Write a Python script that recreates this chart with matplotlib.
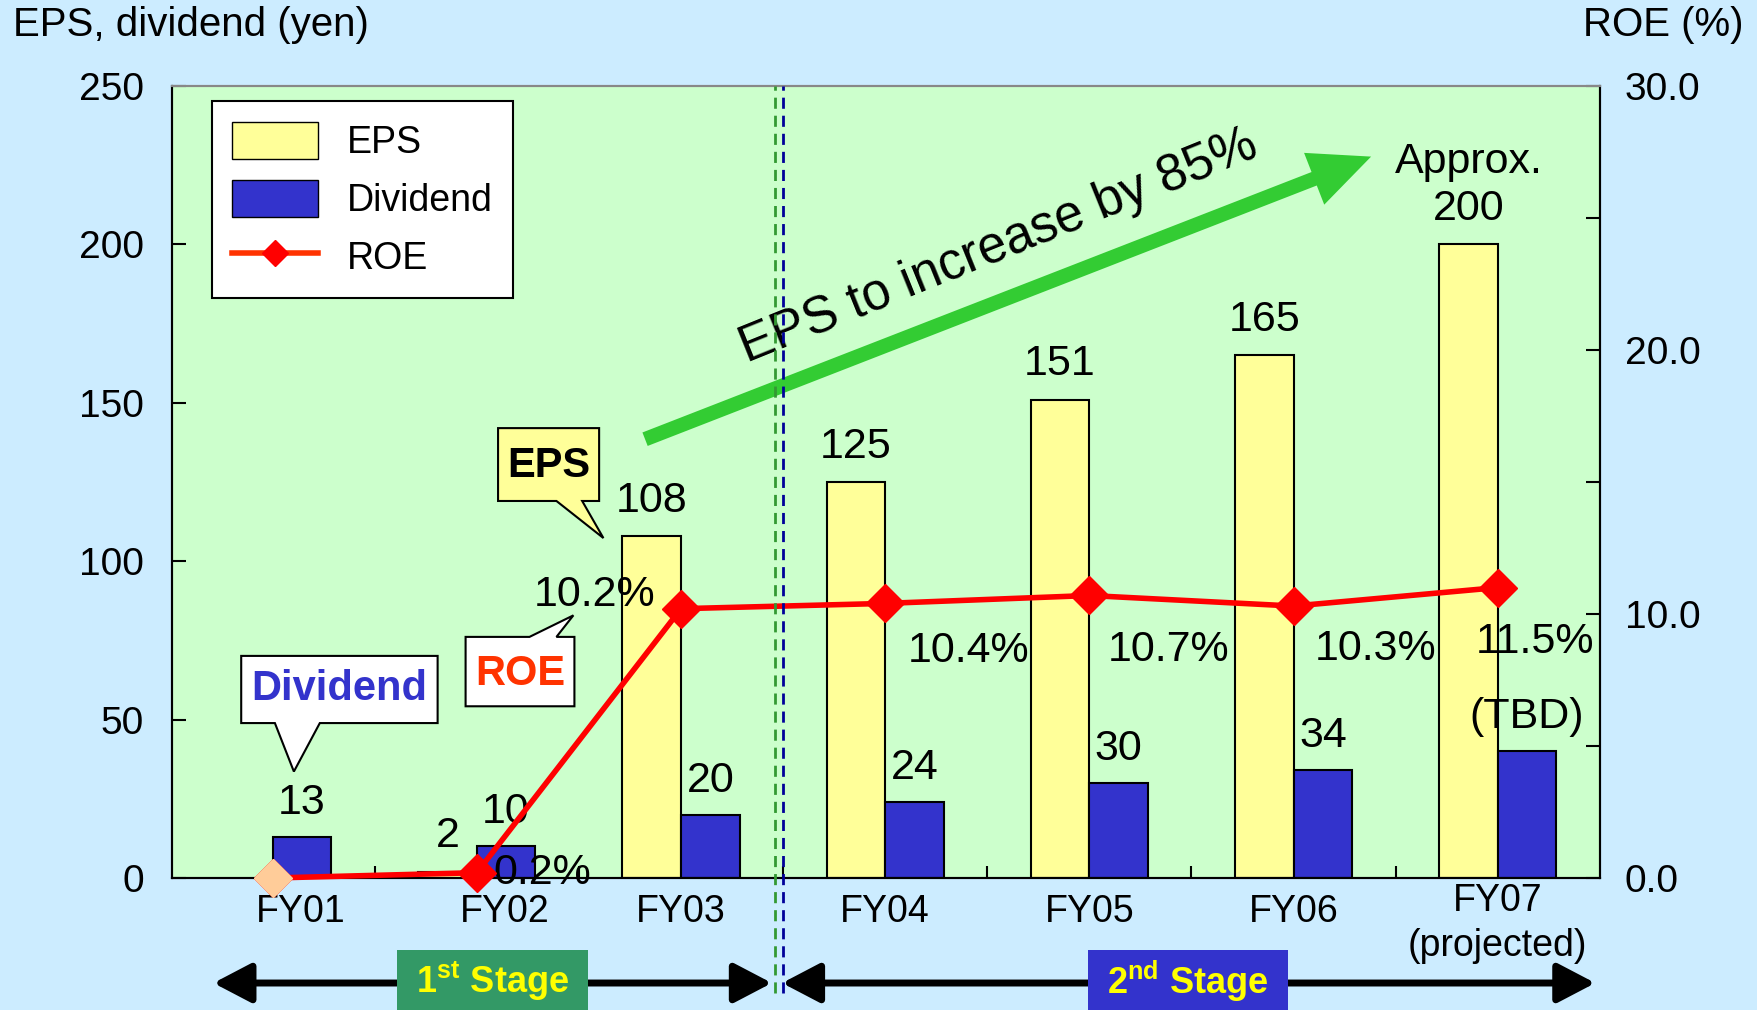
import numpy as np
import matplotlib.pyplot as plt
import matplotlib.transforms as mtransforms
from matplotlib.patches import Polygon, Rectangle, Patch
from matplotlib.lines import Line2D

plt.rcParams['font.family'] = ['Liberation Sans', 'DejaVu Sans']
plt.rcParams['mathtext.fontset'] = 'custom'
plt.rcParams['mathtext.rm'] = 'Liberation Sans'
plt.rcParams['mathtext.bf'] = 'Liberation Sans:bold'

# data
years = ['FY01', 'FY02', 'FY03', 'FY04', 'FY05', 'FY06', 'FY07\n(projected)']
eps = [np.nan, 2, 108, 125, 151, 165, 200]
dividend = [13, 10, 20, 24, 30, 34, 40]
roe = [0.0, 0.2, 10.2, 10.4, 10.7, 10.3, 11.0]

eps_labels = ['', '2', '108', '125', '151', '165', 'Approx.\n200']
div_labels = ['13', '10', '20', '24', '30', '34', '(TBD)']
roe_labels = ['', '0.2%', '10.2%', '10.4%', '10.7%', '10.3%', '11.5%']
stage_labels = ['1$^{\\mathbf{st}}$ Stage', '2$^{\\mathbf{nd}}$ Stage']

# layout tweaks
roe_offsets = [(0, 0), (47, 0), (-62, 10), (60, -34), (57, -39), (59, -31), (27, -39)]
year_shift = [0.137, 0.137, 0, 0, 0, 0, 0]

YELLOW = '#FFFF99'
BLUE = '#3333CC'
RED = '#FF0000'

fig = plt.figure(figsize=(17.58, 10.10), dpi=100, facecolor='#CCECFF')
ax = fig.add_axes([0.0976, 0.1307, 0.8124, 0.7842])
ax.set_facecolor('#CCFFCC')

x = np.arange(len(years))
w = 0.287
ax.bar(x - w / 2, eps, w, color=YELLOW, edgecolor='black', linewidth=1.5, zorder=2)
ax.bar(x + w / 2, dividend, w, color=BLUE, edgecolor='black', linewidth=1.5, zorder=2)

ax.set_xlim(-0.495, 6.5)
ax.set_ylim(0, 250)
ax.set_yticks(range(0, 251, 50))
ax.tick_params(axis='y', direction='in', length=10, width=1.5, labelsize=28, pad=20)
ax.set_xticks(x[:-1] + 0.5)
ax.set_xticklabels([])
ax.tick_params(axis='x', direction='in', length=9, width=1.5)

trans = mtransforms.blended_transform_factory(ax.transData, ax.transAxes)

for i, lab in enumerate(years):
    ypos = -0.0577 if '\n' in lab else -0.0425
    ax.text(x[i] + year_shift[i], ypos, lab, transform=trans,
            ha='center', va='center', fontsize=27, linespacing=1.3)

for i in range(len(x)):
    if eps_labels[i]:
        ax.annotate(eps_labels[i], (x[i] - w / 2, eps[i]), xytext=(0, 11),
                    textcoords='offset points', ha='center', va='bottom',
                    fontsize=31, linespacing=1.22)
    ax.annotate(div_labels[i], (x[i] + w / 2, dividend[i]), xytext=(0, 10),
                textcoords='offset points', ha='center', va='bottom', fontsize=31)

# ROE on the right axis
ax2 = ax.twinx()
ax2.set_ylim(0, 30)
ax2.set_xlim(ax.get_xlim())
ax2.set_yticks([0, 10, 20, 30])
ax2.set_yticklabels(['%.1f' % v for v in [0, 10, 20, 30]])
ax2.set_yticks([5, 15, 25], minor=True)
ax2.tick_params(axis='y', which='both', direction='in', length=10, width=1.5,
                labelsize=28, pad=18)
ax2.plot(x, roe, color=RED, lw=4, marker='D', ms=19, zorder=5, clip_on=False)
ax2.plot(x[0], roe[0], 'D', color='#FFCC99', ms=19, zorder=6, clip_on=False)
for i in range(1, len(x)):
    ax2.annotate(roe_labels[i], (x[i], roe[i]), xytext=roe_offsets[i],
                 textcoords='offset points', ha='center', va='center', fontsize=31)

for a in (ax, ax2):
    for s in a.spines.values():
        s.set_linewidth(1.5)
    a.spines['top'].set_color('#888888')

# stage divider
ax2.plot([2.46, 2.46], [-0.145, 1], transform=trans, color='#339933', lw=2,
         ls=(0, (4, 2.5)), clip_on=False, zorder=10)
ax2.plot([2.5, 2.5], [-0.145, 1], transform=trans, color='#000099', lw=2,
         ls=(0, (4, 2.5)), clip_on=False, zorder=10)

# stage arrows and boxes
for x0, x1 in [(-0.29, 2.445), (2.495, 6.478)]:
    ax.annotate('', xy=(x0, -0.1326), xytext=(x1, -0.1326), xycoords=trans,
                textcoords=trans, annotation_clip=False,
                arrowprops=dict(arrowstyle='<|-|>,head_length=1.05,head_width=0.55',
                                mutation_scale=22, color='black', lw=5,
                                shrinkA=0, shrinkB=0))
for (x0, bw, col), lab in zip([(0.61, 0.934, '#339966'), (3.995, 0.978, BLUE)], stage_labels):
    ax.add_patch(Rectangle((x0, -0.2), bw, 0.1097, transform=trans, facecolor=col,
                           edgecolor='none', clip_on=False, zorder=6))
    ax.text(x0 + bw / 2, -0.13, lab, transform=trans, ha='center', va='center',
            fontsize=26, fontweight='bold', color='#FFFF00', zorder=7)

# green growth arrow
ax.annotate('', xy=(5.38, 227.7), xytext=(1.824, 138.5),
            arrowprops=dict(arrowstyle='simple,head_length=1.1,head_width=1.0,tail_width=0.26',
                            mutation_scale=40, color='#33CC33', lw=0,
                            shrinkA=0, shrinkB=0), zorder=3)
ax.text(3.555, 199.4, 'EPS to increase by 85%', rotation=22, rotation_mode='anchor',
        ha='center', va='center', fontsize=37, zorder=4)

# callouts
callouts = [
    ([(-0.154, 70.1), (0.808, 70.1), (0.808, 48.9), (0.231, 48.9), (0.104, 33.6),
      (0.011, 48.9), (-0.154, 48.9)], 'white', 'Dividend', BLUE, (0.327, 59.5)),
    ([(0.945, 76.1), (1.258, 76.1), (1.473, 82.9), (1.39, 76.1), (1.478, 76.1),
      (1.478, 54.2), (0.945, 54.2)], 'white', 'ROE', '#FF3300', (1.211, 64.4)),
    ([(1.104, 142.0), (1.599, 142.0), (1.599, 119.0), (1.516, 119.0), (1.62, 107.3),
      (1.39, 119.0), (1.104, 119.0)], YELLOW, 'EPS', 'black', (1.352, 130.0)),
]
for verts, fc, txt, tc, pos in callouts:
    ax.add_patch(Polygon(verts, closed=True, facecolor=fc, edgecolor='black', lw=1.5, zorder=4))
    ax.text(pos[0], pos[1], txt, ha='center', va='center', fontsize=30,
            fontweight='bold', color=tc, zorder=5)

handles = [Patch(facecolor=YELLOW, edgecolor='black'),
           Patch(facecolor=BLUE, edgecolor='black'),
           Line2D([], [], color='#FF3300', lw=4, marker='D', ms=13, mfc=RED, mec=RED)]
leg = ax2.legend(handles, ['EPS', 'Dividend', 'ROE'], loc='upper left',
                 bbox_to_anchor=(0.028, 0.981), fontsize=27, frameon=True,
                 fancybox=False, edgecolor='black', framealpha=1, handlelength=2.3,
                 handleheight=1.15, labelspacing=0.5, borderpad=0.55, handletextpad=0.75,
                 borderaxespad=0)
leg.get_frame().set_linewidth(1.5)
leg.set_zorder(12)

fig.text(0.0074, 0.975, 'EPS, dividend (yen)', ha='left', va='center', fontsize=29)
fig.text(0.9915, 0.975, 'ROE (%)', ha='right', va='center', fontsize=29)

plt.savefig('out.png', dpi=100, facecolor=fig.get_facecolor())
